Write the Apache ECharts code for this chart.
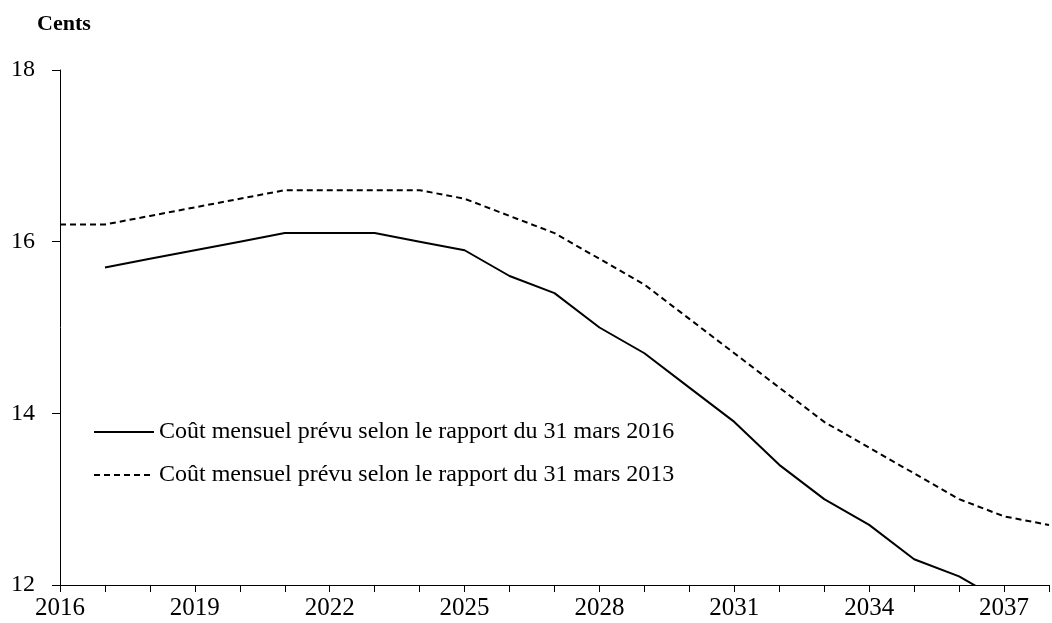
<!DOCTYPE html>
<html>
<head>
<meta charset="utf-8">
<script src="https://cdn.jsdelivr.net/npm/echarts@6/dist/echarts.min.js"></script>
<style>
  html, body { margin: 0; padding: 0; background: #fff; }
  #chart { width: 1052px; height: 623px; }
</style>
</head>
<body>
<div id="chart"></div>
<script>
const years = [2016, 2017, 2018, 2019, 2020, 2021, 2022, 2023, 2024, 2025, 2026, 2027,
               2028, 2029, 2030, 2031, 2032, 2033, 2034, 2035, 2036, 2037, 2038];
const rapport2016 = [null, 15.7, 15.8, 15.9, 16.0, 16.1, 16.1, 16.1, 16.0, 15.9, 15.6, 15.4,
                     15.0, 14.7, 14.3, 13.9, 13.4, 13.0, 12.7, 12.3, 12.1, 11.8, null];
const rapport2013 = [16.2, 16.2, 16.3, 16.4, 16.5, 16.6, 16.6, 16.6, 16.6, 16.5, 16.3, 16.1,
                     15.8, 15.5, 15.1, 14.7, 14.3, 13.9, 13.6, 13.3, 13.0, 12.8, 12.7];
const seriesNames = [
  'Coût mensuel prévu selon le rapport du 31 mars 2016',
  'Coût mensuel prévu selon le rapport du 31 mars 2013'
];
const yTicks = [12, 14, 16, 18];
const unitLabel = 'Cents';

const FONT = '"Liberation Serif", "Times New Roman", serif';
const pairs = (vals) => years.map((y, i) => [y, vals[i]]);

const chart = echarts.init(document.getElementById('chart'), null, { renderer: 'canvas' });
chart.setOption({
  animation: false,
  backgroundColor: '#ffffff',
  title: {
    text: unitLabel,
    left: 32,
    top: 8,
    textStyle: { fontFamily: FONT, fontWeight: 'bold', fontSize: 22, color: '#000' }
  },
  grid: { left: 60, top: 70, width: 998.8, height: 515, containLabel: false },
  legend: {
    orient: 'vertical',
    left: 93,
    top: 420,
    padding: 0,
    itemWidth: 60,
    itemHeight: 14,
    itemGap: 19,
    data: seriesNames,
    itemStyle: { opacity: 0 },
    textStyle: { fontFamily: FONT, fontSize: 24, color: '#000' },
    selectedMode: false
  },
  xAxis: {
    type: 'value',
    min: 2016,
    max: 2038,
    interval: 1,
    axisLine: { show: true, onZero: false, lineStyle: { color: '#000', width: 1 } },
    axisTick: { show: true, inside: false, length: 7, lineStyle: { color: '#000' } },
    axisLabel: {
      fontFamily: FONT, fontSize: 25, color: '#000', margin: 11,
      formatter: (v) => ((v - 2016) % 3 === 0 && Number.isInteger(v)) ? String(v) : ''
    },
    splitLine: { show: false }
  },
  yAxis: {
    type: 'value',
    min: yTicks[0],
    max: yTicks[yTicks.length - 1],
    interval: 2,
    axisLine: { show: true, onZero: false, lineStyle: { color: '#000', width: 1 } },
    axisTick: { show: true, inside: false, length: 8, lineStyle: { color: '#000' } },
    axisLabel: { fontFamily: FONT, fontSize: 24, color: '#000', margin: 25 },
    splitLine: { show: false }
  },
  series: [
    {
      name: seriesNames[0],
      type: 'line',
      data: pairs(rapport2016),
      symbol: 'none',
      clip: true,
      connectNulls: false,
      lineStyle: { color: '#000', width: 2, type: 'solid' },
      itemStyle: { color: '#000' }
    },
    {
      name: seriesNames[1],
      type: 'line',
      data: pairs(rapport2013),
      symbol: 'none',
      clip: true,
      lineStyle: { color: '#000', width: 2, type: [6, 4] },
      itemStyle: { color: '#000' }
    }
  ]
});
</script>
</body>
</html>
